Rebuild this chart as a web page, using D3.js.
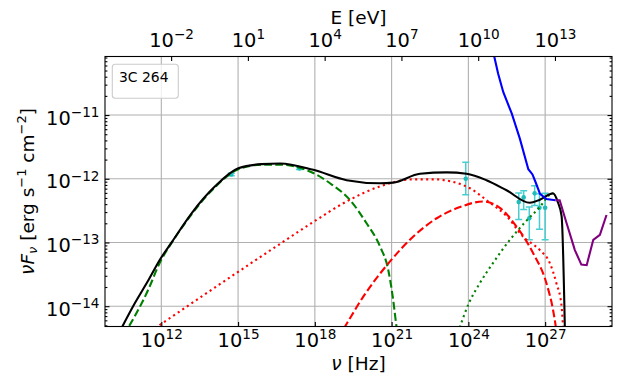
<!DOCTYPE html>
<html>
<head>
<meta charset="utf-8">
<script src="https://cdn.jsdelivr.net/npm/d3@7"></script>
<style>
  body { margin: 0; background: #fff; }
  svg, svg text { font-family: 'DejaVu Sans', sans-serif; }
</style>
</head>
<body>
<div id="chart"></div>
<script>
// model curves, [nu (Hz), nuFnu (erg s-1 cm-2)]
const totalModel = [
  [2.0e10, 3.5e-15], [9.3e10, 1.12e-14], [3.2e11, 2.6e-14], [8.9e11, 5.4e-14],
  [2.6e12, 1.02e-13], [1.55e13, 2.9e-13], [1.26e14, 7.6e-13], [1.02e15, 1.46e-12],
  [8.3e15, 1.70e-12], [4.4e16, 1.74e-12], [8.7e17, 1.38e-12], [1.74e19, 9.5e-13],
  [3.5e20, 8.5e-13], [1.15e21, 8.7e-13], [1.29e22, 1.20e-12], [1.41e23, 1.26e-12],
  [8.5e23, 1.20e-12], [5.1e24, 9.5e-13], [3.1e25, 6.6e-13], [2.5e26, 4.2e-13],
  [6.2e26, 4.7e-13], [2.04e27, 5.9e-13], [3.2e27, 4.2e-13], [4.4e27, 2.6e-13],
  [6.0e27, 3.2e-15]
]
const synchrotron = [
  [3.4e10, 3.5e-15], [3.1e11, 1.82e-14], [8.9e11, 4.9e-14], [2.6e12, 1.0e-13],
  [1.55e13, 2.8e-13], [1.26e14, 7.4e-13], [1.02e15, 1.41e-12], [8.3e15, 1.66e-12],
  [4.4e16, 1.66e-12], [8.7e17, 1.23e-12], [3.9e18, 8.5e-13], [2.3e19, 4.7e-13],
  [1.05e20, 2.0e-13], [3.5e20, 8.7e-14], [7.4e20, 3.7e-14], [1.15e21, 1.26e-14],
  [1.55e21, 4.8e-15], [1.8e21, 3.2e-15]
]
const sscBroad = [
  [2.5e11, 3.6e-15], [8.9e11, 5.1e-15], [3.7e16, 9.1e-14], [8.7e17, 2.1e-13],
  [1.74e19, 4.4e-13], [3.5e20, 7.6e-13], [6.9e21, 9.8e-13], [4.3e22, 9.8e-13],
  [2.6e23, 8.9e-13], [1.15e24, 7.1e-13], [6.9e24, 4.2e-13], [3.1e25, 2.6e-13],
  [1.38e26, 1.23e-13], [6.2e26, 7.6e-14], [1.51e27, 4.8e-14], [2.75e27, 2.3e-14],
  [4.4e27, 1.0e-14], [5.0e27, 4.8e-15], [5.4e27, 3.2e-15]
]
const sscNarrow = [
  [8.1e18, 3.2e-15], [1.51e19, 4.8e-15], [7.8e19, 1.41e-14], [8.5e20, 5.0e-14],
  [6.9e21, 1.23e-13], [5.8e22, 2.4e-13], [4.7e23, 3.6e-13], [3.8e24, 4.4e-13],
  [1.7e25, 3.5e-13], [7.6e25, 1.78e-13], [3.4e26, 6.8e-14], [1.12e27, 2.3e-14],
  [2.04e27, 8.7e-15], [2.6e27, 4.8e-15], [2.95e27, 3.2e-15]
]
const hadronic = [
  [3.2e23, 3.2e-15], [4.7e23, 4.8e-15], [9.8e23, 1.05e-14], [2.8e24, 2.3e-14],
  [9.3e24, 4.8e-14], [4.2e25, 1.10e-13], [1.86e26, 2.2e-13], [6.2e26, 3.6e-13],
  [1.51e27, 5.6e-13], [2.04e27, 5.9e-13]
]
const sensBlue = [
  [8.1e24, 1.26e-10], [1.02e25, 8.4e-11], [1.45e25, 4.5e-11], [2.3e25, 2.3e-11],
  [4.9e25, 1.07e-11], [1.02e26, 4.3e-12], [2.2e26, 1.41e-12], [3.2e26, 1.17e-12],
  [4.2e26, 8.9e-13], [6.3e26, 5.8e-13], [1.12e27, 4.8e-13], [2.5e27, 4.6e-13]
]
const sensPurple = [
  [2.5e27, 4.6e-13], [3.7e27, 4.6e-13], [6.9e27, 2.0e-13], [1.45e28, 7.6e-14],
  [2.6e28, 4.5e-14], [4.2e28, 4.4e-14], [7.6e28, 1.10e-13], [1.38e29, 1.32e-13],
  [2.5e29, 2.7e-13]
]

// measured fluxes
const pointNu   = [5.4e14, 2.5e17, 7.9e23, 9.3e25, 1.45e26, 2.4e26, 3.9e26, 6.0e26, 1.0e27]
const pointFlux = [1.17e-12, 1.45e-12, 1.0e-12, 4.3e-13, 5.1e-13, 2.4e-13, 5.9e-13, 3.5e-13, 3.5e-13]
const pointLow  = [1.12e-12, 1.40e-12, 5.6e-13, 2.3e-13, 3.3e-13, 1.10e-13, 3.8e-13, 1.62e-13, 1.10e-13]
const pointHigh = [1.22e-12, 1.50e-12, 1.82e-12, 6.0e-13, 6.5e-13, 3.6e-13, 7.8e-13, 5.8e-13, 5.9e-13]

const nuTicks = [1e12, 1e15, 1e18, 1e21, 1e24, 1e27]
const eTicks = [1e-2, 1e1, 1e4, 1e7, 1e10, 1e13]
const fluxTicks = [1e-14, 1e-13, 1e-12, 1e-11]

const hEv = 4.135667e-15 // eV s

const margin = { top: 56.5, left: 105, right: 8, bottom: 47.5 }
const width = 620 - margin.left - margin.right
const height = 374 - margin.top - margin.bottom

const svg = d3
  .select('#chart')
  .append('svg')
  .attr('width', 620)
  .attr('height', 374)
  .append('g')
  .attr('transform', 'translate(' + margin.left + ',' + margin.top + ')')

const xPositionScale = d3.scaleLog().domain([6.3e9, 4.1e29]).range([0, width])
const yPositionScale = d3.scaleLog().domain([4.8e-15, 8.3e-11]).range([height, 0])
const ePositionScale = d3
  .scaleLog()
  .domain(xPositionScale.domain().map(d => d * hEv))
  .range([0, width])

const tickSize = 19.4
const supSize = 13.6

function powerLabel(text, v) {
  const e = Math.round(Math.log10(v))
  text.text('10')
  text
    .append('tspan')
    .attr('font-size', supSize)
    .attr('dy', -7.5)
    .text(String(e).replace('-', '\u2212'))
}

// grid
svg
  .append('g')
  .selectAll('line')
  .data(nuTicks)
  .enter()
  .append('line')
  .attr('x1', d => xPositionScale(d))
  .attr('x2', d => xPositionScale(d))
  .attr('y1', 0)
  .attr('y2', height)
  .attr('stroke', '#b0b0b0')
  .attr('stroke-width', 1.1)

svg
  .append('g')
  .selectAll('line')
  .data(fluxTicks)
  .enter()
  .append('line')
  .attr('x1', 0)
  .attr('x2', width)
  .attr('y1', d => yPositionScale(d))
  .attr('y2', d => yPositionScale(d))
  .attr('stroke', '#b0b0b0')
  .attr('stroke-width', 1.1)

// clip
svg
  .append('clipPath')
  .attr('id', 'plot-clip')
  .append('rect')
  .attr('width', width)
  .attr('height', height)

const plot = svg.append('g').attr('clip-path', 'url(#plot-clip)')

// data points
const points = plot.append('g')
pointNu.forEach(function(nu, i) {
  const px = xPositionScale(nu)
  const g = points.append('g').attr('stroke', '#48cdd0').attr('stroke-width', 1.5)
  g.append('line')
    .attr('x1', px).attr('x2', px)
    .attr('y1', yPositionScale(pointLow[i]))
    .attr('y2', yPositionScale(pointHigh[i]))
  ;[pointLow[i], pointHigh[i]].forEach(function(v) {
    g.append('line')
      .attr('x1', px - 3.5).attr('x2', px + 3.5)
      .attr('y1', yPositionScale(v)).attr('y2', yPositionScale(v))
  })
  points.append('circle')
    .attr('cx', px)
    .attr('cy', yPositionScale(pointFlux[i]))
    .attr('r', 2.3)
    .attr('fill', '#20bcbc')
})

const smooth = d3
  .line()
  .x(d => xPositionScale(d[0]))
  .y(d => yPositionScale(d[1]))
  .curve(d3.curveMonotoneX)

const straight = d3
  .line()
  .x(d => xPositionScale(d[0]))
  .y(d => yPositionScale(d[1]))

function drawCurve(data, gen, color, dash) {
  plot
    .append('path')
    .datum(data)
    .attr('d', gen)
    .attr('fill', 'none')
    .attr('stroke', color)
    .attr('stroke-width', 2.1)
    .attr('stroke-dasharray', dash)
}

drawCurve(synchrotron, smooth, '#008000', '7.7,3.3')
drawCurve(sscBroad, smooth, '#ff0000', '2.1,3.4')
drawCurve(sscNarrow, smooth, '#ff0000', '7.7,3.3')
drawCurve(hadronic, smooth, '#008000', '2.1,3.4')
drawCurve(totalModel, smooth, '#000000', null)
drawCurve(sensBlue, straight, '#0000ff', null)
drawCurve(sensPurple, straight, '#800080', null)

// bottom axis
const xAxis = d3
  .axisBottom(xPositionScale)
  .tickValues(nuTicks)
  .tickSizeInner(-4.5)
  .tickSizeOuter(0)
  .tickFormat('')

const gx = svg
  .append('g')
  .attr('transform', `translate(0,${height})`)
  .call(xAxis)
gx.selectAll('.tick text')
  .attr('y', 20)
  .attr('dy', null)
  .attr('font-size', tickSize)
  .attr('fill', '#000')
  .each(function(d) { powerLabel(d3.select(this), d) })

// top axis in eV
const eAxis = d3
  .axisTop(ePositionScale)
  .tickValues(eTicks)
  .tickSizeInner(-4.5)
  .tickSizeOuter(0)
  .tickFormat('')

const ge = svg.append('g').call(eAxis)
ge.selectAll('.tick text')
  .attr('y', -10)
  .attr('dy', null)
  .attr('font-size', tickSize)
  .attr('fill', '#000')
  .each(function(d) { powerLabel(d3.select(this), d) })

// y axes with minor ticks
const minorTicks = []
for (let e = -15; e <= -11; e++) {
  for (let k = 2; k <= 9; k++) {
    const v = k * Math.pow(10, e)
    if (v > 4.8e-15 && v < 8.3e-11) minorTicks.push(v)
  }
}

const yAxis = d3
  .axisLeft(yPositionScale)
  .tickValues(fluxTicks)
  .tickSizeInner(-4.5)
  .tickSizeOuter(0)
  .tickFormat('')

const gy = svg.append('g').call(yAxis)
gy.selectAll('.tick text')
  .attr('x', -5.5)
  .attr('y', 9)
  .attr('dy', null)
  .attr('font-size', tickSize)
  .attr('fill', '#000')
  .each(function(d) { powerLabel(d3.select(this), d) })

svg.append('g').call(
  d3.axisLeft(yPositionScale).tickValues(minorTicks).tickSizeInner(-2.4).tickSizeOuter(0).tickFormat('')
)
svg
  .append('g')
  .attr('transform', `translate(${width},0)`)
  .call(d3.axisRight(yPositionScale).tickValues(fluxTicks).tickSizeInner(-4.5).tickSizeOuter(0).tickFormat(''))
svg
  .append('g')
  .attr('transform', `translate(${width},0)`)
  .call(d3.axisRight(yPositionScale).tickValues(minorTicks).tickSizeInner(-2.4).tickSizeOuter(0).tickFormat(''))

svg.selectAll('.domain').remove()
svg.selectAll('.tick line').attr('stroke', '#000').attr('stroke-width', 1.1)

// frame
svg
  .append('rect')
  .attr('width', width)
  .attr('height', height)
  .attr('fill', 'none')
  .attr('stroke', '#000')
  .attr('stroke-width', 1.1)

// legend
svg
  .append('rect')
  .attr('x', 7.3)
  .attr('y', 7.8)
  .attr('width', 66)
  .attr('height', 34)
  .attr('rx', 3)
  .attr('fill', '#fff')
  .attr('fill-opacity', 0.8)
  .attr('stroke', '#cccccc')
  .attr('stroke-width', 1.1)

svg
  .append('text')
  .attr('x', 14)
  .attr('y', 25.5)
  .attr('font-size', 13.9)
  .text('3C 264')

// axis labels
const xl = svg
  .append('text')
  .attr('x', width / 2)
  .attr('y', height + 43.5)
  .attr('text-anchor', 'middle')
  .attr('font-size', 18.5)
xl.append('tspan').attr('font-style', 'italic').text('\u03bd')
xl.append('tspan').text(' [Hz]')

svg
  .append('text')
  .attr('x', width / 2)
  .attr('y', -32.5)
  .attr('text-anchor', 'middle')
  .attr('font-size', 18.5)
  .text('E [eV]')

const yl = svg
  .append('text')
  .attr('transform', `translate(${33.5 - margin.left},${height / 2}) rotate(-90)`)
  .attr('text-anchor', 'middle')
  .attr('font-size', 18.5)
yl.append('tspan').attr('font-style', 'italic').text('\u03bdF')
yl.append('tspan').attr('font-style', 'italic').attr('font-size', 13).attr('dy', 3.5).text('\u03bd')
yl.append('tspan').attr('dy', -3.5).text(' [erg s')
yl.append('tspan').attr('font-size', 13).attr('dy', -7.5).text('\u22121')
yl.append('tspan').attr('dy', 7.5).text(' cm')
yl.append('tspan').attr('font-size', 13).attr('dy', -7.5).text('\u22122')
yl.append('tspan').attr('dy', 7.5).text(']')
</script>
</body>
</html>
